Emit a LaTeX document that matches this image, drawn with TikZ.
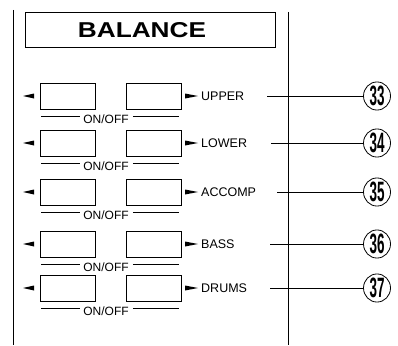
\documentclass[tikz,border=0pt]{standalone}
\usepackage{fontspec}
\setmainfont{Liberation Sans}
\usetikzlibrary{shapes.geometric}
\tikzset{
  btn/.style={draw, line width=0.7pt, minimum width=55pt, minimum height=26pt, inner sep=0pt},
  lbl/.style={anchor=west, inner sep=0pt, font=\fontsize{12.5}{12.5}\selectfont},
  onoff/.style={inner sep=0pt, font=\fontsize{12}{12}\selectfont},
  num/.style={draw, line width=0.8pt, ellipse, minimum width=27pt, minimum height=28pt, inner sep=0pt,
    font=\fontsize{28}{28}\selectfont\bfseries},
  conn/.style={line width=0.7pt},
  tri/.style={fill=black},
  frame/.style={line width=0.8pt}
}
\newcommand{\cnum}[1]{\scalebox{0.48}[1]{#1}}
\begin{document}
\begin{tikzpicture}[x=1pt,y=-1pt]
\useasboundingbox (0,0) rectangle (398,345);
% frame lines
\coordinate (lt) at (13,10);
\coordinate (lb) at (13,345);
\coordinate (rt) at (288,12);
\coordinate (rb) at (288,345);
\draw[frame] (lt) -- (lb);
\draw[frame] (rt) -- (rb);
% title
\node[draw, line width=0.8pt, minimum width=250pt, minimum height=35pt, inner sep=0pt] (title) at (150,30) {};
\node[inner sep=0pt, font=\fontsize{21.5}{21.5}\selectfont\bfseries] (titletext) at (142,30) {\scalebox{1.22}[1]{BALANCE}};
% rows
\foreach \y/\lab/\n/\nm/\sx in {96/UPPER/33/a/267,143/LOWER/34/b/271,192/ACCOMP/35/c/277,244/BASS/36/d/270,288/DRUMS/37/e/270}{
  \node[btn] (L\nm) at (68,\y) {};
  \node[btn] (R\nm) at (154,\y) {};
  \fill[tri] (34,\y-2.5) -- (23,\y) -- (34,\y+2.5) -- cycle;
  \fill[tri] (185,\y-2.5) -- (198,\y) -- (185,\y+2.5) -- cycle;
  \node[lbl] (T\nm) at (201,\y) {\lab};
  \node[num] (N\nm) at (377,\y) {\cnum{\n}};
  \coordinate (S\nm) at (\sx,\y);
  \draw[conn] (S\nm) -- (N\nm.west);
  \node[onoff] (O\nm) at (106,\y+23) {ON/OFF};
  \draw[conn] (41,\y+20) -- ([xshift=-3pt]O\nm.west |- 0,\y+20);
  \draw[conn] ([xshift=4pt]O\nm.east |- 0,\y+20) -- (179,\y+20);
}
\end{tikzpicture}
\end{document}
